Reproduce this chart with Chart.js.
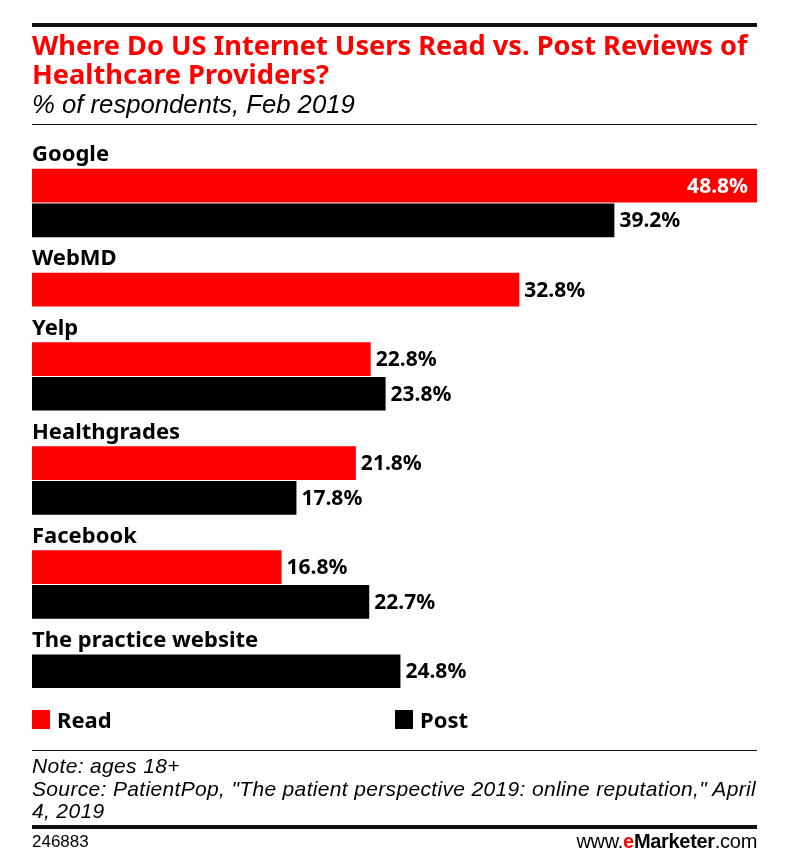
<!DOCTYPE html>
<html>
<head>
<meta charset="utf-8">
<script src="https://cdn.jsdelivr.net/npm/chart.js@4"></script>
<style>
    html, body { margin: 0; padding: 0; background: #fff; }
    #page { position: relative; width: 800px; height: 865px; overflow: hidden; color: #000; font-family: "Noto Sans", sans-serif; }
    #page canvas { position: absolute; left: 0; top: 0; }
    .rule { position: absolute; left: 32px; width: 725px; background: #111; }
    .txt { position: absolute; white-space: nowrap; }
    #title { left: 32px; top: 30px; color: #f00; font-weight: 700; font-size: 27.2px; line-height: 29px; }
    #subtitle { left: 32px; top: 90px; font-family: "Liberation Sans"; font-style: italic; font-size: 25.7px; line-height: 29px; }
    .legendBox { position: absolute; top: 710px; width: 18px; height: 19px; }
    .legendText { top: 705px; font-weight: 700; font-size: 22px; line-height: 29px; }
    #note { left: 32px; top: 755px; font-family: "Liberation Sans"; font-style: italic; font-size: 21px; letter-spacing: 0.34px; line-height: 22.5px; }
    #code { left: 32px; top: 832px; font-family: "Liberation Sans"; font-size: 17px; line-height: 20px; }
    #brand { right: 43px; top: 830px; font-family: "Liberation Sans"; font-size: 20px; line-height: 22px; letter-spacing: -0.3px; }
    #brand b.e { color: #f00; }
</style>
</head>
<body>
<div id="page">
    <canvas id="chart" width="800" height="865"></canvas>
    <div class="rule" style="top:23px;height:4px"></div>
    <div class="txt" id="title">Where Do US Internet Users Read vs. Post Reviews of<br>Healthcare Providers?</div>
    <div class="txt" id="subtitle">% of respondents, Feb 2019</div>
    <div class="rule" style="top:124px;height:1px"></div>
    <div class="legendBox" style="left:32px;background:#f00"></div>
    <div class="txt legendText" style="left:57px">Read</div>
    <div class="legendBox" style="left:395px;background:#000"></div>
    <div class="txt legendText" style="left:420px">Post</div>
    <div class="rule" style="top:750px;height:1px"></div>
    <div class="txt" id="note">Note: ages 18+<br>Source: PatientPop, "The patient perspective 2019: online reputation," April<br>4, 2019</div>
    <div class="rule" style="top:825px;height:4px"></div>
    <div class="txt" id="code">246883</div>
    <div class="txt" id="brand">www.<b class="e">e</b><b>Marketer</b>.com</div>
</div>
<script>
var categories = ["Google", "WebMD", "Yelp", "Healthgrades", "Facebook", "The practice website"];
var readValues = [48.8, 32.8, 22.8, 21.8, 16.8, null];
var postValues = [39.2, null, 23.8, 17.8, 22.7, 24.8];

// One row per label and per bar, so a missing bar takes no room
var rowLabels = [], readRows = [], postRows = [];
categories.forEach(function (name, i) {
    rowLabels.push(name); readRows.push(null); postRows.push(null);
    if (readValues[i] !== null) {
        rowLabels.push(""); readRows.push(readValues[i]); postRows.push(null);
    }
    if (postValues[i] !== null) {
        rowLabels.push(""); readRows.push(null); postRows.push(postValues[i]);
    }
});

// Value labels at the end of each bar, white inside when the bar fills the plot
var barValueLabels = {
    id: "barValueLabels",
    afterDatasetsDraw: function (chart) {
        var ctx = chart.ctx;
        ctx.save();
        ctx.font = "700 21px 'Noto Sans'";
        ctx.textBaseline = "middle";
        chart.data.datasets.forEach(function (dataset, d) {
            chart.getDatasetMeta(d).data.forEach(function (bar, i) {
                var value = dataset.data[i];
                if (value === null) return;
                var text = value.toFixed(1) + "%";
                if (value === chart.scales.x.max) {
                    ctx.fillStyle = "#fff";
                    ctx.textAlign = "right";
                    ctx.fillText(text, bar.x - 9, bar.y + 1);
                } else {
                    ctx.fillStyle = "#000";
                    ctx.textAlign = "left";
                    ctx.fillText(text, bar.x + 5, bar.y + 1);
                }
            });
        });
        ctx.restore();
    }
};

new Chart(document.getElementById("chart"), {
    type: "bar",
    data: {
        labels: rowLabels,
        datasets: [
            { label: "Read", data: readRows, backgroundColor: "#ff0000" },
            { label: "Post", data: postRows, backgroundColor: "#000000" }
        ]
    },
    options: {
        indexAxis: "y",
        responsive: false,
        animation: false,
        layout: { padding: { left: 32, right: 43, top: 133.6, bottom: 176.4 } },
        datasets: { bar: { categoryPercentage: 1, barPercentage: 0.97 } },
        plugins: { legend: { display: false }, tooltip: { enabled: false } },
        scales: {
            x: { display: false, min: 0, max: 48.8, stacked: true },
            y: {
                stacked: true,
                grid: { display: false },
                border: { display: false },
                afterFit: function (scale) { scale.width = 0; },
                ticks: {
                    mirror: true,
                    padding: 0,
                    labelOffset: 4,
                    autoSkip: false,
                    color: "#000",
                    font: { family: "'Noto Sans'", weight: "700", size: 22 }
                }
            }
        }
    },
    plugins: [barValueLabels]
});
</script>
</body>
</html>
